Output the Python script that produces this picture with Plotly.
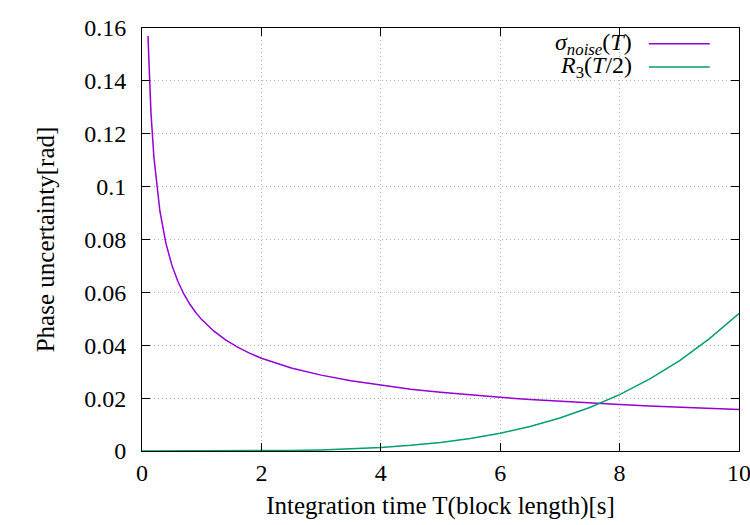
import plotly.graph_objects as go

# sigma_noise(T) samples
t_noise = [0.1, 0.15, 0.2, 0.25, 0.3, 0.4, 0.5, 0.6, 0.7, 0.8, 0.9, 1.0, 1.2, 1.4, 1.6, 1.8, 2.0,
           2.5, 3.0, 3.5, 4.0, 4.5, 5.0, 5.5, 6.0, 6.5, 7.0, 7.5, 8.0, 8.5, 9.0, 9.5, 10.0]
sigma_noise = [0.157, 0.128, 0.111, 0.0994, 0.0907, 0.0786, 0.0703, 0.0642, 0.0594, 0.0556, 0.0524,
               0.0497, 0.0454, 0.0420, 0.0393, 0.0370, 0.0351, 0.0314, 0.0287, 0.0266, 0.0249,
               0.0234, 0.0222, 0.0212, 0.0203, 0.0195, 0.0188, 0.0181, 0.0176, 0.0170, 0.0166,
               0.0161, 0.0157]

# R3(T/2) samples
t_r3 = [0.0, 1.0, 2.0, 2.5, 3.0, 3.5, 4.0, 4.5, 5.0, 5.5, 6.0, 6.5, 7.0, 7.5, 8.0, 8.5, 9.0, 9.5, 10.0]
r3 = [0.0, 0.000005, 0.000083, 0.0002, 0.00042, 0.00078, 0.00133, 0.00213, 0.00325, 0.00476,
      0.00674, 0.00928, 0.01249, 0.01645, 0.0213, 0.0272, 0.0341, 0.0424, 0.052]

x_ticks = [0, 2, 4, 6, 8, 10]
y_ticks = [0, 0.02, 0.04, 0.06, 0.08, 0.1, 0.12, 0.14, 0.16]
y_labels = ["0", "0.02", "0.04", "0.06", "0.08", "0.1", "0.12", "0.14", "0.16"]

legend_names = ["<i>σ</i><sub><i>noise</i></sub>(<i>T</i>)", "<i>R</i><sub>3</sub>(<i>T</i>/2)"]
colors = ["#9400d3", "#009e73"]

FONT = "Liberation Serif, DejaVu Serif, serif"

fig = go.Figure()
fig.add_trace(go.Scatter(x=t_noise, y=sigma_noise, mode="lines",
                         line=dict(color=colors[0], width=1.5), showlegend=False))
fig.add_trace(go.Scatter(x=t_r3, y=r3, mode="lines",
                         line=dict(color=colors[1], width=1.5), showlegend=False))

# gnuplot-style legend: right-aligned text with sample line to its right
legend_y = [0.963, 0.908]
for name, col, yy in zip(legend_names, colors, legend_y):
    fig.add_annotation(xref="paper", yref="paper", x=0.824, y=yy, text=name,
                       showarrow=False, xanchor="right", yanchor="middle",
                       font=dict(family=FONT, size=24, color="black"))
    fig.add_shape(type="line", xref="paper", yref="paper", x0=0.849, x1=0.951, y0=yy, y1=yy,
                  line=dict(color=col, width=1.5))

axis_common = dict(showline=True, linecolor="black", linewidth=1, mirror="ticks",
                   ticks="inside", ticklen=8, tickcolor="black", showgrid=True,
                   gridcolor="#b4b4b4", griddash="1px,3px", gridwidth=1, zeroline=False,
                   automargin=False, ticklabeloverflow="allow",
                   tickfont=dict(family=FONT, size=24, color="black"))

fig.update_xaxes(range=[0, 10], tickvals=x_ticks, ticktext=[str(v) for v in x_ticks],
                 title=dict(text="Integration time T(block length)[s]", standoff=11,
                            font=dict(family=FONT, size=25, color="black")),
                 **axis_common)
fig.update_yaxes(range=[0, 0.16], tickvals=y_ticks, ticktext=y_labels, ticklabelstandoff=10,
                 title=dict(text="Phase uncertainty[rad]", standoff=22,
                            font=dict(family=FONT, size=25, color="black")),
                 **axis_common)

fig.update_layout(width=750, height=525, margin=dict(l=142, r=11, t=28, b=74),
                  plot_bgcolor="white", paper_bgcolor="white")

fig.write_html("out.html")
